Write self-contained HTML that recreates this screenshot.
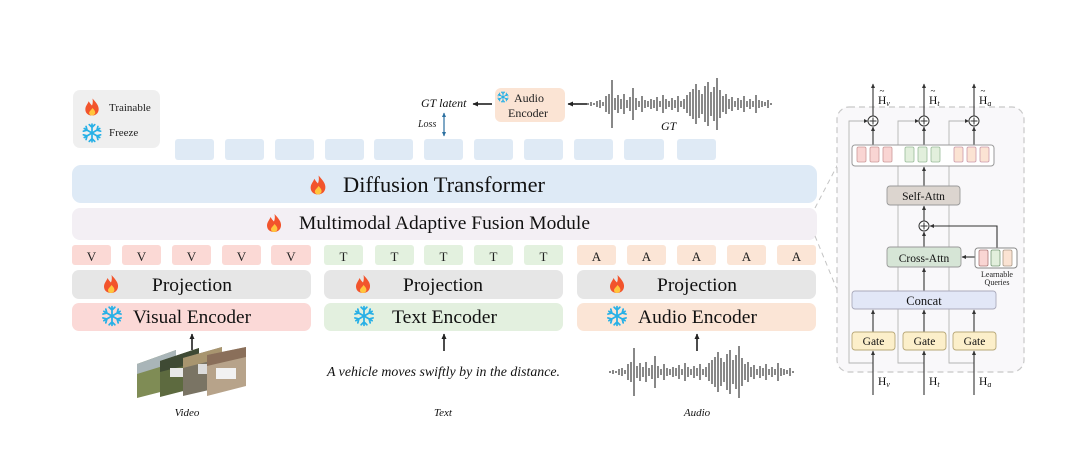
<!DOCTYPE html>
<html><head><meta charset="utf-8"><style>
html,body{margin:0;padding:0;background:#fff;width:1080px;height:474px;overflow:hidden}
svg{display:block}
</style></head><body>
<svg width="1080" height="474" viewBox="0 0 1080 474" font-family="'Liberation Serif', serif" xmlns="http://www.w3.org/2000/svg">
<defs>
<g id="fl"><path d="M0.5,-9 C4,-5 7.5,-1.5 7,3 C6.5,7 3.5,9 0,9 C-4,9 -7,6.5 -7,2.5 C-7,-1 -4.5,-3 -3.5,-6 C-2,-3.5 -1,-2.5 0,-1.5 C1,-4 1,-6.5 0.5,-9Z" fill="#f2542c"/><path d="M0.5,1 C2.5,3 4,5 3.2,7 C2.5,8.5 1,9 0,9 C-1.5,9 -3,8 -3,6.2 C-3,4.5 -1,3.5 0.5,1Z" fill="#ffc53d"/></g>
<g id="arm"><path d="M0,-8.5V8.5M-2.6,-8 L0,-5.4 L2.6,-8 M-2.6,8 L0,5.4 L2.6,8"/></g>
<g id="sf" stroke="#27b0e6" stroke-width="1.6" stroke-linecap="round" fill="none"><use href="#arm"/><use href="#arm" transform="rotate(60)"/><use href="#arm" transform="rotate(120)"/></g>
<marker id="ah" markerWidth="6" markerHeight="6" refX="5" refY="3" orient="auto" markerUnits="userSpaceOnUse"><path d="M0,0.5 L5.5,3 L0,5.5Z" fill="#222"/></marker>
<marker id="ahs" markerWidth="5" markerHeight="5" refX="4" refY="2.5" orient="auto" markerUnits="userSpaceOnUse"><path d="M0,0.5 L4.5,2.5 L0,4.5Z" fill="#333"/></marker>
<marker id="ahb" markerWidth="5" markerHeight="5" refX="4" refY="2.5" orient="auto-start-reverse" markerUnits="userSpaceOnUse"><path d="M0,0.5 L4.5,2.5 L0,4.5Z" fill="#2a6fa0"/></marker>
<path id="wave" d="M610,371v2 M613,370v4 M616,371v2 M619,369v6 M622,368v8 M625,370v4 M628,364v16 M631,362v20 M634,348v48 M637,366v12 M640,363v18 M643,367v10 M646,362v20 M649,368v8 M652,365v14 M655,356v32 M658,366v12 M661,369v6 M664,364v16 M667,368v8 M670,369v6 M673,367v10 M676,368v8 M679,365v14 M682,369v6 M685,363v18 M688,367v10 M691,369v6 M694,366v12 M697,368v8 M700,364v16 M703,369v6 M706,367v10 M709,363v18 M712,360v24 M715,357v30 M718,352v40 M721,358v28 M724,362v20 M727,354v36 M730,350v44 M733,360v24 M736,355v34 M739,346v52 M742,358v28 M745,364v16 M748,362v20 M751,367v10 M754,365v14 M757,369v6 M760,366v12 M763,368v8 M766,364v16 M769,369v6 M772,367v10 M775,369v6 M778,363v18 M781,368v8 M784,369v6 M787,370v4 M790,368v8 M793,371v2" stroke="#3a3a3a" stroke-width="1.2" fill="none"/>
</defs>

<!-- Legend -->
<rect x="73" y="90" width="87" height="58" rx="7" fill="#efefef"/>
<use href="#fl" transform="translate(92,107) scale(0.95)"/>
<text x="109" y="111" font-size="11" fill="#222">Trainable</text>
<use href="#sf" transform="translate(92,133) scale(1.05)"/>
<text x="109" y="136" font-size="11" fill="#222">Freeze</text>

<!-- top GT -->
<text x="421" y="107" font-size="12" font-style="italic" fill="#111">GT latent</text>
<line x1="492" y1="104" x2="473" y2="104" stroke="#111" stroke-width="1.5" marker-end="url(#ah)"/>
<rect x="495" y="88" width="70" height="34" rx="6" fill="#fbe4d4"/>
<use href="#sf" transform="translate(503,97) scale(0.62)"/>
<text x="514" y="102" font-size="12" fill="#222">Audio</text>
<text x="508" y="117" font-size="12" fill="#222">Encoder</text>
<line x1="587" y1="104" x2="568" y2="104" stroke="#111" stroke-width="1.5" marker-end="url(#ah)"/>
<use href="#wave" transform="translate(-22,-268)"/>
<text x="661" y="130" font-size="12" font-style="italic" fill="#111">GT</text>
<text x="418" y="127" font-size="10" font-style="italic" fill="#222">Loss</text>
<line x1="444" y1="113" x2="444" y2="136" stroke="#2a6fa0" stroke-width="1.2" marker-start="url(#ahb)" marker-end="url(#ahb)"/>

<!-- top tokens -->
<g fill="#dfeaf5">
<rect x="175" y="139" width="39" height="21" rx="3"/><rect x="225" y="139" width="39" height="21" rx="3"/><rect x="275" y="139" width="39" height="21" rx="3"/><rect x="325" y="139" width="39" height="21" rx="3"/><rect x="374" y="139" width="39" height="21" rx="3"/><rect x="424" y="139" width="39" height="21" rx="3"/><rect x="474" y="139" width="39" height="21" rx="3"/><rect x="524" y="139" width="39" height="21" rx="3"/><rect x="574" y="139" width="39" height="21" rx="3"/><rect x="624" y="139" width="40" height="21" rx="3"/><rect x="677" y="139" width="39" height="21" rx="3"/>
</g>

<!-- Diffusion Transformer -->
<rect x="72" y="165" width="745" height="38" rx="9" fill="#deeaf6"/>
<use href="#fl" transform="translate(318,185) scale(1.05)"/>
<text x="343" y="192" font-size="22" fill="#111" textLength="202" lengthAdjust="spacingAndGlyphs">Diffusion Transformer</text>

<!-- Fusion -->
<rect x="72" y="208" width="745" height="32" rx="8" fill="#f3eff4"/>
<use href="#fl" transform="translate(274,223) scale(1)"/>
<text x="299" y="229" font-size="19" fill="#111" textLength="291" lengthAdjust="spacingAndGlyphs">Multimodal Adaptive Fusion Module</text>

<!-- token row -->
<g font-size="13" fill="#222" text-anchor="middle">
<g fill="#fbd9d5"><rect x="72" y="245" width="39" height="20" rx="3"/><rect x="122" y="245" width="39" height="20" rx="3"/><rect x="172" y="245" width="39" height="20" rx="3"/><rect x="222" y="245" width="39" height="20" rx="3"/><rect x="271" y="245" width="40" height="20" rx="3"/></g>
<g fill="#e3f1df"><rect x="324" y="245" width="39" height="20" rx="3"/><rect x="375" y="245" width="39" height="20" rx="3"/><rect x="424" y="245" width="39" height="20" rx="3"/><rect x="474" y="245" width="39" height="20" rx="3"/><rect x="524" y="245" width="39" height="20" rx="3"/></g>
<g fill="#fbe5d6"><rect x="577" y="245" width="39" height="20" rx="3"/><rect x="627" y="245" width="39" height="20" rx="3"/><rect x="677" y="245" width="39" height="20" rx="3"/><rect x="727" y="245" width="39" height="20" rx="3"/><rect x="777" y="245" width="39" height="20" rx="3"/></g>
<text x="91.5" y="261">V</text><text x="141.5" y="261">V</text><text x="191.5" y="261">V</text><text x="241.5" y="261">V</text><text x="291" y="261">V</text>
<text x="343.5" y="261">T</text><text x="394.5" y="261">T</text><text x="443.5" y="261">T</text><text x="493.5" y="261">T</text><text x="543.5" y="261">T</text>
<text x="596.5" y="261">A</text><text x="646.5" y="261">A</text><text x="696.5" y="261">A</text><text x="746.5" y="261">A</text><text x="796.5" y="261">A</text>
</g>

<!-- Projection -->
<g fill="#e6e6e6"><rect x="72" y="270" width="239" height="29" rx="7"/><rect x="324" y="270" width="239" height="29" rx="7"/><rect x="577" y="270" width="239" height="29" rx="7"/></g>
<use href="#fl" transform="translate(111,284) scale(1)"/>
<use href="#fl" transform="translate(363,284) scale(1)"/>
<use href="#fl" transform="translate(617,284) scale(1)"/>
<g font-size="19" fill="#111">
<text x="152" y="291" textLength="80" lengthAdjust="spacingAndGlyphs">Projection</text>
<text x="403" y="291" textLength="80" lengthAdjust="spacingAndGlyphs">Projection</text>
<text x="657" y="291" textLength="80" lengthAdjust="spacingAndGlyphs">Projection</text>
</g>

<!-- Encoders -->
<rect x="72" y="303" width="239" height="28" rx="7" fill="#fbd9d7"/>
<rect x="324" y="303" width="239" height="28" rx="7" fill="#e3f0df"/>
<rect x="577" y="303" width="239" height="28" rx="7" fill="#fbe5d6"/>
<use href="#sf" transform="translate(112,316) scale(1.1)"/>
<use href="#sf" transform="translate(364,316) scale(1.1)"/>
<use href="#sf" transform="translate(617,316) scale(1.1)"/>
<g font-size="19" fill="#111">
<text x="133" y="323" textLength="118" lengthAdjust="spacingAndGlyphs">Visual Encoder</text>
<text x="392" y="323" textLength="105" lengthAdjust="spacingAndGlyphs">Text Encoder</text>
<text x="638" y="323" textLength="119" lengthAdjust="spacingAndGlyphs">Audio Encoder</text>
</g>

<!-- input arrows -->
<g stroke="#111" stroke-width="1.5">
<line x1="192" y1="350" x2="192" y2="334" marker-end="url(#ah)"/>
<line x1="444" y1="351" x2="444" y2="334" marker-end="url(#ah)"/>
<line x1="697" y1="351" x2="697" y2="334" marker-end="url(#ah)"/>
</g>

<!-- video frames -->
<polygon points="137,364 176,350 176,388 137,398" fill="#7f8c55"/>
<polygon points="137,364 176,350 176,362 137,374" fill="#a9b5b8"/>
<polygon points="160,361 199,348 199,387 160,397" fill="#5d6a3f"/>
<polygon points="160,361 199,348 199,362 160,372" fill="#3f4a34"/>
<rect x="170" y="368" width="14" height="9" fill="#e8e8e8"/>
<polygon points="183,358 222,347 222,387 183,396" fill="#7a7464"/>
<polygon points="183,358 222,347 222,358 183,368" fill="#a8956f"/>
<rect x="198" y="364" width="12" height="10" fill="#dcdcdc"/>
<polygon points="207,355 246,347 246,386 207,396" fill="#b7a38a"/>
<polygon points="207,355 246,347 246,357 207,366" fill="#8a6f5a"/>
<rect x="216" y="368" width="20" height="11" fill="#f2f2f2"/>

<text x="327" y="376" font-size="13.5" font-style="italic" fill="#111" textLength="233" lengthAdjust="spacingAndGlyphs">A vehicle moves swiftly by in the distance.</text>
<use href="#wave"/>

<g font-size="11" font-style="italic" fill="#111" text-anchor="middle">
<text x="187" y="416">Video</text>
<text x="443" y="416">Text</text>
<text x="697" y="416">Audio</text>
</g>

<!-- dashed zoom lines -->
<g stroke="#c4c4c4" stroke-width="1" stroke-dasharray="5,4" fill="none">
<line x1="815" y1="208" x2="838" y2="164"/>
<line x1="815" y1="236" x2="838" y2="292"/>
</g>

<!-- right panel -->
<rect x="837" y="107" width="187" height="265" rx="12" fill="#f9f8fa" stroke="#c8c8c8" stroke-width="1.2" stroke-dasharray="6,4"/>

<!-- residual lines -->
<g stroke="#b4b4b4" stroke-width="0.9" fill="none">
<path d="M873,363 H849 V121 H866"/>
<path d="M924,363 H898 V121 H917"/>
<path d="M974,363 H949 V121 H967"/>
</g>
<g fill="#333"><path d="M868,121 l-4,-2 v4z"/><path d="M919,121 l-4,-2 v4z"/><path d="M969,121 l-4,-2 v4z"/></g>

<!-- main flow lines -->
<g stroke="#333" stroke-width="1.1" fill="none">
<line x1="873" y1="395" x2="873" y2="351" marker-end="url(#ahs)"/>
<line x1="924" y1="395" x2="924" y2="351" marker-end="url(#ahs)"/>
<line x1="974" y1="395" x2="974" y2="351" marker-end="url(#ahs)"/>
<line x1="873" y1="332" x2="873" y2="310" marker-end="url(#ahs)"/>
<line x1="924" y1="332" x2="924" y2="310" marker-end="url(#ahs)"/>
<line x1="974" y1="332" x2="974" y2="310" marker-end="url(#ahs)"/>
<line x1="924" y1="291" x2="924" y2="268" marker-end="url(#ahs)"/>
<line x1="924" y1="247" x2="924" y2="232" marker-end="url(#ahs)"/>
<line x1="924" y1="221" x2="924" y2="206" marker-end="url(#ahs)"/>
<line x1="924" y1="186" x2="924" y2="167" marker-end="url(#ahs)"/>
<line x1="873" y1="145" x2="873" y2="127" marker-end="url(#ahs)"/>
<line x1="924" y1="145" x2="924" y2="127" marker-end="url(#ahs)"/>
<line x1="974" y1="145" x2="974" y2="127" marker-end="url(#ahs)"/>
<line x1="873" y1="116" x2="873" y2="84" marker-end="url(#ahs)"/>
<line x1="924" y1="116" x2="924" y2="84" marker-end="url(#ahs)"/>
<line x1="974" y1="116" x2="974" y2="84" marker-end="url(#ahs)"/>
<path d="M997,248 V226 H930" marker-end="url(#ahs)"/>
<line x1="975" y1="257" x2="962" y2="257" marker-end="url(#ahs)"/>
</g>

<!-- plus circles -->
<g stroke="#333" stroke-width="1" fill="#fff">
<circle cx="873" cy="121" r="5"/><circle cx="924" cy="121" r="5"/><circle cx="974" cy="121" r="5"/><circle cx="924" cy="226" r="5"/>
</g>
<g stroke="#333" stroke-width="1">
<path d="M869.5,121h7M873,117.5v7"/><path d="M920.5,121h7M924,117.5v7"/><path d="M970.5,121h7M974,117.5v7"/><path d="M920.5,226h7M924,222.5v7"/>
</g>

<!-- token box -->
<rect x="852" y="145" width="142" height="21" rx="3" fill="#fff" stroke="#999" stroke-width="1"/>
<g stroke-width="0.8">
<g fill="#f9d5d3" stroke="#c99"><rect x="857" y="147" width="9" height="15" rx="1.5"/><rect x="870" y="147" width="9" height="15" rx="1.5"/><rect x="883" y="147" width="9" height="15" rx="1.5"/></g>
<g fill="#e2efdc" stroke="#9b9"><rect x="905" y="147" width="9" height="15" rx="1.5"/><rect x="918" y="147" width="9" height="15" rx="1.5"/><rect x="931" y="147" width="9" height="15" rx="1.5"/></g>
<g fill="#fbe3d3" stroke="#c9a"><rect x="954" y="147" width="9" height="15" rx="1.5"/><rect x="967" y="147" width="9" height="15" rx="1.5"/><rect x="980" y="147" width="9" height="15" rx="1.5"/></g>
</g>

<!-- Self-Attn -->
<rect x="887" y="186" width="73" height="19" rx="3" fill="#dcd5cf" stroke="#999" stroke-width="0.9"/>
<text x="923.5" y="200" font-size="11.5" text-anchor="middle" fill="#111">Self-Attn</text>
<!-- Cross-Attn -->
<rect x="887" y="247" width="74" height="20" rx="3" fill="#d6e5d6" stroke="#999" stroke-width="0.9"/>
<text x="924" y="262" font-size="11.5" text-anchor="middle" fill="#111">Cross-Attn</text>
<!-- Learnable queries -->
<rect x="975" y="248" width="42" height="20" rx="3" fill="#fff" stroke="#888" stroke-width="1"/>
<rect x="979" y="250" width="9" height="16" rx="1.5" fill="#f9d5d3" stroke="#a77" stroke-width="0.8"/>
<rect x="991" y="250" width="9" height="16" rx="1.5" fill="#e2efdc" stroke="#797" stroke-width="0.8"/>
<rect x="1003" y="250" width="9" height="16" rx="1.5" fill="#fbe3d3" stroke="#a98" stroke-width="0.8"/>
<text x="997" y="277" font-size="8" text-anchor="middle" fill="#222">Learnable</text>
<text x="997" y="285" font-size="8" text-anchor="middle" fill="#222">Queries</text>
<!-- Concat -->
<rect x="852" y="291" width="144" height="18" rx="3" fill="#e2e7f7" stroke="#aab" stroke-width="0.9"/>
<text x="924" y="305" font-size="12.5" text-anchor="middle" fill="#111">Concat</text>
<!-- Gates -->
<g fill="#fcefca" stroke="#b8a878" stroke-width="0.9">
<rect x="852" y="332" width="43" height="18" rx="3"/><rect x="903" y="332" width="43" height="18" rx="3"/><rect x="953" y="332" width="43" height="18" rx="3"/>
</g>
<g font-size="11.5" text-anchor="middle" fill="#111">
<text x="873.5" y="345">Gate</text><text x="924.5" y="345">Gate</text><text x="974.5" y="345">Gate</text>
</g>

<!-- H labels -->
<g font-size="11.5" fill="#111">
<text x="878" y="104">H<tspan font-size="8" font-style="italic" dy="2">v</tspan></text>
<text x="929" y="104">H<tspan font-size="8" font-style="italic" dy="2">t</tspan></text>
<text x="979" y="104">H<tspan font-size="8" font-style="italic" dy="2">a</tspan></text>
<text x="878" y="385">H<tspan font-size="8" font-style="italic" dy="2">v</tspan></text>
<text x="929" y="385">H<tspan font-size="8" font-style="italic" dy="2">t</tspan></text>
<text x="979" y="385">H<tspan font-size="8" font-style="italic" dy="2">a</tspan></text>
</g>
<g font-size="9" fill="#111">
<text x="879.5" y="94">~</text><text x="930.5" y="94">~</text><text x="980.5" y="94">~</text>
</g>
</svg>
</body></html>
